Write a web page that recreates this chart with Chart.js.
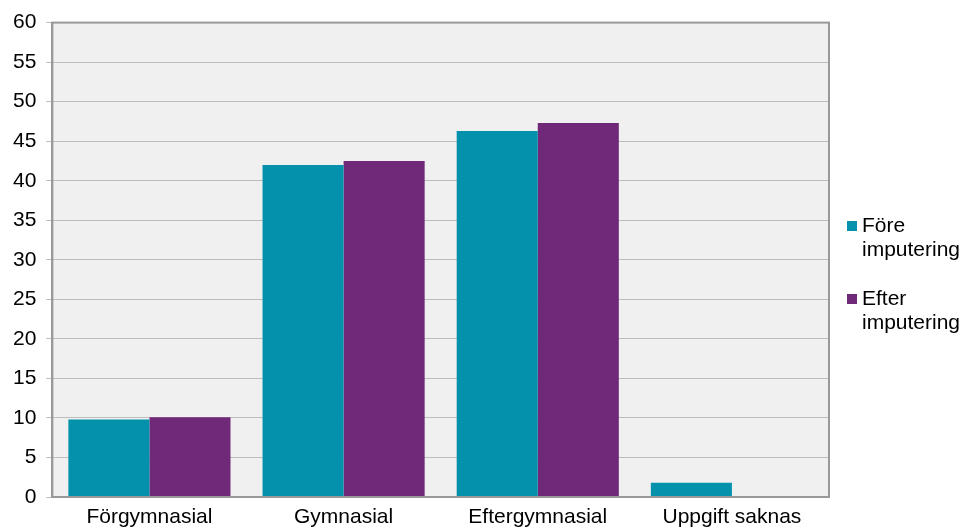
<!DOCTYPE html>
<html>
<head>
<meta charset="utf-8">
<script src="https://cdn.jsdelivr.net/npm/chart.js@4.4.0/dist/chart.umd.min.js"></script>
<style>
  body { margin: 0; background: #fff; font-family: 'Liberation Sans', Arial, sans-serif; }
  #wrap { position: relative; width: 965px; height: 530px; }
  #legend { position: absolute; left: 846px; top: 213px; font-size: 21px; line-height: 24px; color: #000; }
  .item { position: relative; padding-left: 16px; margin-bottom: 25px; }
  .box { position: absolute; left: 1px; top: 8px; width: 10px; height: 10px; }
</style>
</head>
<body>
<div id="wrap">
  <canvas id="chart" width="965" height="530"></canvas>
  <div id="legend"></div>
</div>
<script>
const categories = ['Förgymnasial', 'Gymnasial', 'Eftergymnasial', 'Uppgift saknas'];
const foreValues = [9.8, 42.0, 46.3, 1.8];
const efterValues = [10.1, 42.5, 47.3, 0];
const seriesNames = [['Före', 'imputering'], ['Efter', 'imputering']];
const seriesColors = ['#0491ac', '#702878'];

// plot background + frame
const plotFrame = {
  id: 'plotFrame',
  beforeDraw(chart) {
    const a = chart.chartArea, c = chart.ctx;
    c.save();
    c.fillStyle = '#f0f0f0';
    c.fillRect(a.left, a.top, a.right - a.left, a.bottom - a.top);
    c.restore();
  },
  afterDraw(chart) {
    const a = chart.chartArea, c = chart.ctx;
    c.save();
    c.strokeStyle = '#999999';
    c.lineWidth = 2;
    c.strokeRect(a.left, a.top, a.right - a.left, a.bottom - a.top);
    c.restore();
  }
};

const chart = new Chart(document.getElementById('chart').getContext('2d'), {
  type: 'bar',
  data: {
    labels: categories,
    datasets: [
      { label: seriesNames[0].join(' '), data: foreValues, backgroundColor: seriesColors[0] },
      { label: seriesNames[1].join(' '), data: efterValues, backgroundColor: seriesColors[1] }
    ]
  },
  options: {
    responsive: false,
    animation: false,
    layout: { padding: { top: 12, right: 136, bottom: -8, left: 3 } },
    datasets: { bar: { categoryPercentage: 0.835, barPercentage: 1.0 } },
    scales: {
      x: {
        grid: { display: false, drawTicks: false },
        border: { color: '#999999', width: 2 },
        ticks: { color: '#000', font: { family: 'Liberation Sans', size: 21, lineHeight: 1 }, padding: 10 }
      },
      y: {
        min: 0, max: 60,
        ticks: { stepSize: 5, color: '#000', font: { family: 'Liberation Sans', size: 21 }, padding: 10 },
        grid: { color: '#bdbdbd', lineWidth: 1, tickLength: 6 },
        border: { color: '#999999', width: 2 }
      }
    },
    plugins: {
      legend: { display: false },
      tooltip: { enabled: false }
    }
  },
  plugins: [plotFrame]
});

// legend with two-line labels
const legend = document.getElementById('legend');
seriesNames.forEach((lines, i) => {
  const item = document.createElement('div');
  item.className = 'item';
  const box = document.createElement('span');
  box.className = 'box';
  box.style.background = seriesColors[i];
  item.appendChild(box);
  lines.forEach(t => {
    const d = document.createElement('div');
    d.textContent = t;
    item.appendChild(d);
  });
  legend.appendChild(item);
});
</script>
</body>
</html>
